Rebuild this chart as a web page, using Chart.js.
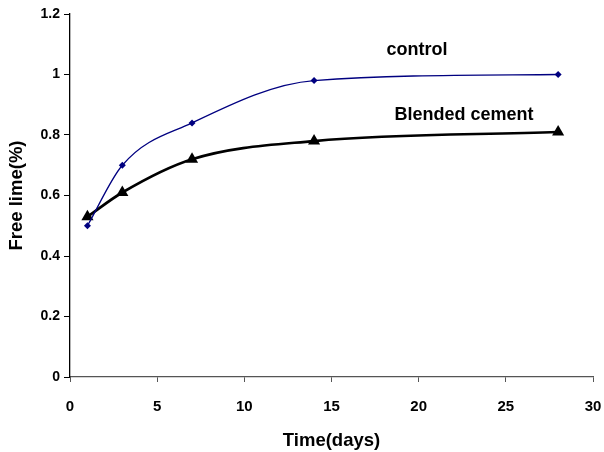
<!DOCTYPE html>
<html>
<head>
<meta charset="utf-8">
<script src="https://cdn.jsdelivr.net/npm/chart.js@4/dist/chart.umd.min.js"></script>
<style>
  html, body { margin: 0; padding: 0; background: #fff; }
  #wrap { width: 604px; height: 452px; }
</style>
</head>
<body>
<div id="wrap"><canvas id="chart" width="604" height="452"></canvas></div>
<script>
// data
const days = [1, 3, 7, 14, 28];
const controlLime = [0.5, 0.7, 0.84, 0.98, 1.0];
const blendedLime = [0.53, 0.61, 0.72, 0.78, 0.81];
const yTicks = [0, 0.2, 0.4, 0.6, 0.8, 1, 1.2];
const xTicks = [0, 5, 10, 15, 20, 25, 30];

const FONT = '"Liberation Sans", Arial, sans-serif';

function toPoints(xs, ys) {
  return xs.map((x, i) => ({ x, y: ys[i] }));
}

// series labels written inside the plot, like in the original
const seriesLabels = {
  id: 'seriesLabels',
  afterDatasetsDraw(chart) {
    const { ctx, scales } = chart;
    const items = [
      { text: 'control', x: 19.9, y: 1.082 },
      { text: 'Blended cement', x: 22.6, y: 0.867 }
    ];
    ctx.save();
    ctx.font = 'bold 18px ' + FONT;
    ctx.fillStyle = '#000';
    ctx.textAlign = 'center';
    ctx.textBaseline = 'middle';
    items.forEach((it) => {
      ctx.fillText(it.text, scales.x.getPixelForValue(it.x), scales.y.getPixelForValue(it.y));
    });
    ctx.restore();
  }
};

new Chart(document.getElementById('chart'), {
  type: 'scatter',
  data: {
    datasets: [
      {
        label: 'control',
        data: toPoints(days, controlLime),
        showLine: true,
        borderColor: '#000080',
        backgroundColor: '#000080',
        borderWidth: 1.3,
        pointStyle: 'rectRot',
        pointRadius: 3.5,
        pointBorderWidth: 0,
        cubicInterpolationMode: 'monotone'
      },
      {
        label: 'Blended cement',
        data: toPoints(days, blendedLime),
        showLine: true,
        borderColor: '#000',
        backgroundColor: '#000',
        borderWidth: 2.7,
        pointStyle: 'triangle',
        pointRadius: 7,
        pointBorderWidth: 0,
        cubicInterpolationMode: 'monotone'
      }
    ]
  },
  options: {
    responsive: false,
    animation: false,
    devicePixelRatio: 1,
    layout: { padding: { top: 14, right: 11, left: 0, bottom: 0 } },
    plugins: {
      legend: { display: false },
      tooltip: { enabled: false }
    },
    scales: {
      x: {
        type: 'linear',
        min: 0,
        max: 30,
        afterBuildTicks: (axis) => { axis.ticks = xTicks.map((v) => ({ value: v })); },
        afterFit: (axis) => {
          axis.height = 75;
          axis.paddingRight = 0;
          axis.paddingLeft = 0;
        },
        border: { color: '#555', width: 1.3 },
        grid: { drawOnChartArea: false, drawTicks: true, tickLength: 5, color: '#555' },
        ticks: { color: '#000', font: { family: FONT, size: 15, weight: 'bold' }, padding: 16, maxRotation: 0 },
        title: { display: true, text: 'Time(days)', color: '#000', font: { family: FONT, size: 18.5, weight: 'bold' }, padding: { top: 0, bottom: 0 } }
      },
      y: {
        min: 0,
        max: 1.2,
        afterBuildTicks: (axis) => { axis.ticks = yTicks.map((v) => ({ value: v })); },
        afterFit: (axis) => { axis.width = 70; },
        border: { color: '#000', width: 1.3 },
        grid: { drawOnChartArea: false, drawTicks: true, tickLength: 6, color: '#000' },
        ticks: { color: '#000', font: { family: FONT, size: 14, weight: 'bold' }, padding: 4, callback: (v) => String(Math.round(v * 10) / 10) },
        title: { display: true, text: 'Free lime(%)', color: '#000', font: { family: FONT, size: 18.5, weight: 'bold' }, padding: { top: 6, bottom: 0 } }
      }
    }
  },
  plugins: [seriesLabels]
});
</script>
</body>
</html>
